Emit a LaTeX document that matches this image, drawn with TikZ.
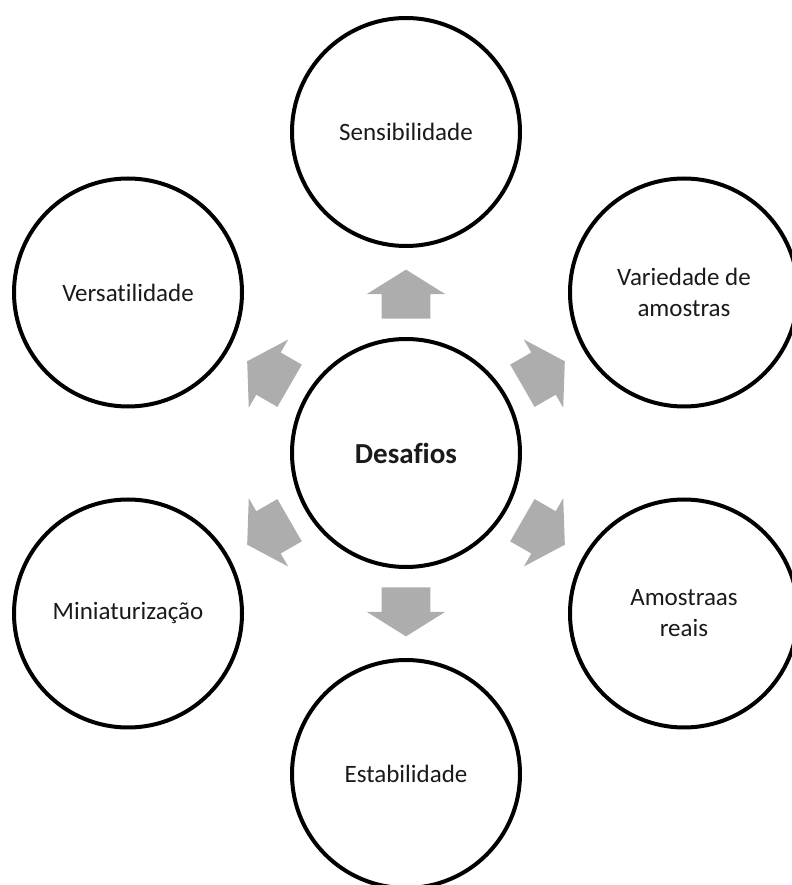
\documentclass[tikz,border=0pt]{standalone}
\usepackage{fontspec}
\setmainfont{Carlito}[Ligatures=NoCommon]
\usepackage{tikz}
\usetikzlibrary{positioning, shapes.arrows, calc}
\definecolor{ringInk}{HTML}{000000}
\definecolor{textInk}{HTML}{1A1A1A}
\definecolor{pushGray}{HTML}{ADADAD}
\tikzset{
  bubble/.style={circle, draw=ringInk, fill=white, line width=2pt,
    minimum size=114pt, inner sep=0pt, align=center, text=textInk,
    font=\fontsize{12.5}{15.5}\selectfont},
  hubbubble/.style={bubble, font=\fontsize{14.5}{17}\selectfont\bfseries},
  pusharrow/.style={single arrow, fill=pushGray, draw=none,
    minimum height=24.5pt, minimum width=39pt, inner xsep=0pt,
    inner ysep=12pt, single arrow head extend=7.5pt,
    single arrow tip angle=116, anchor=tail},
}

\begin{document}
\begin{tikzpicture}[x=0.5pt, y=0.5pt]
    \clip (0,0) rectangle (792,885);
    \node[hubbubble] (hub) at (406,432) {Desafios};
    \node[bubble] (sens) at ($(hub)+(90:321)$) {Sensibilidade};
    \node[bubble] (vari) at ($(hub)+(30:321)$) {Variedade de\\amostras};
    \node[bubble] (reais) at ($(hub)+(-30:321)$) {Amostraas\\reais};
    \node[bubble] (estab) at ($(hub)+(-90:321)$) {Estabilidade};
    \node[bubble] (mini) at ($(hub)+(-150:321)$) {Miniaturização};
    \node[bubble] (versa) at ($(hub)+(150:321)$) {Versatilidade};
    \node[pusharrow, rotate=90] (toSens) at ($(hub)+(90:134)$) {};
    \node[pusharrow, rotate=30] (toVari) at ($(hub)+(30:134)$) {};
    \node[pusharrow, rotate=-30] (toReais) at ($(hub)+(-30:134)$) {};
    \node[pusharrow, rotate=-90] (toEstab) at ($(hub)+(-90:134)$) {};
    \node[pusharrow, rotate=-150] (toMini) at ($(hub)+(-150:134)$) {};
    \node[pusharrow, rotate=150] (toVersa) at ($(hub)+(150:134)$) {};
  \end{tikzpicture}
\end{document}
